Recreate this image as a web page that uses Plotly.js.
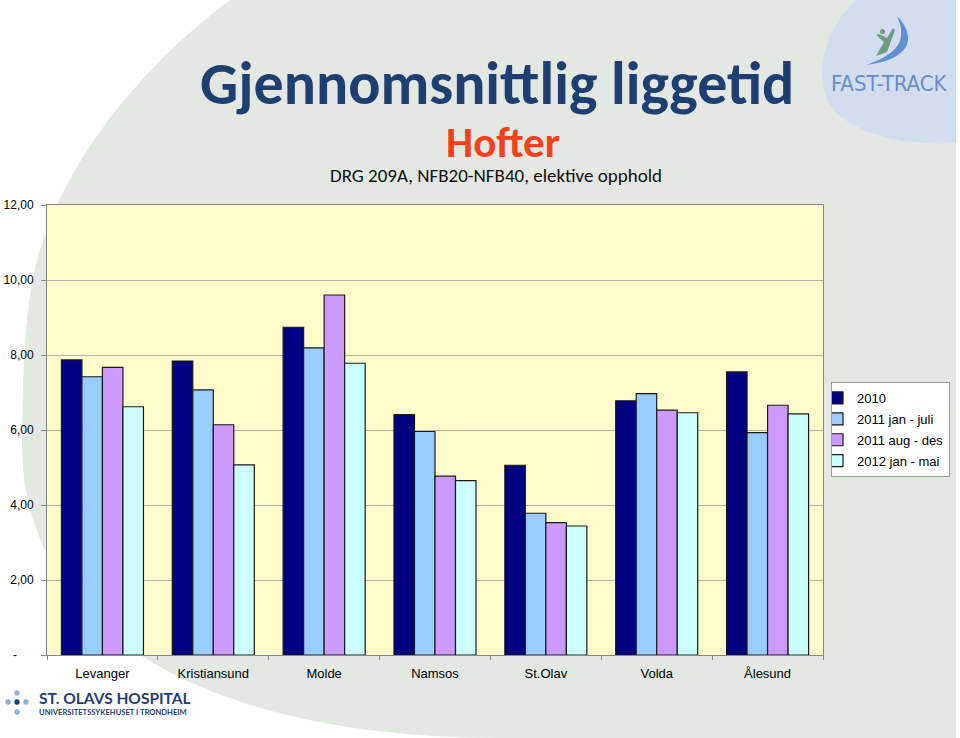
<!DOCTYPE html>
<html>
<head>
<meta charset="utf-8">
<script src="https://cdn.plot.ly/plotly-3.0.1.min.js"></script>
<style>
  html, body { margin: 0; padding: 0; background: #ffffff; }
  #chart { width: 960px; height: 738px; }
</style>
</head>
<body>
<div id="chart"></div>
<script>
// ---- Data ----
const categories = ['Levanger', 'Kristiansund', 'Molde', 'Namsos', 'St.Olav', 'Volda', 'Ålesund'];
const seriesNames = ['2010', '2011 jan - juli', '2011 aug - des', '2012 jan - mai'];
const values2010 = [7.87, 7.84, 8.74, 6.41, 5.06, 6.78, 7.55];
const values2011JanJuli = [7.42, 7.07, 8.19, 5.96, 3.78, 6.97, 5.93];
const values2011AugDes = [7.67, 6.14, 9.60, 4.77, 3.53, 6.53, 6.66];
const values2012JanMai = [6.62, 5.07, 7.78, 4.65, 3.44, 6.46, 6.43];
const yTickVals = [0, 2, 4, 6, 8, 10, 12];
const yTickText = ['-\u00a0\u00a0\u00a0\u00a0\u00a0', '2,00', '4,00', '6,00', '8,00', '10,00', '12,00'];
const seriesColors = ['#000080', '#99ccff', '#cc99ff', '#ccffff'];

// ---- Layout geometry (pixels) ----
const W = 960, H = 738;
const M = {l: 47, r: 137, t: 205, b: 83};
const PW = W - M.l - M.r, PH = H - M.t - M.b;
const px = x => (x - M.l) / PW;
const py = y => (H - M.b - y) / PH;
const P = (x, y) => px(x) + ',' + py(y);

const allSeries = [values2010, values2011JanJuli, values2011AugDes, values2012JanMai];
const traces = allSeries.map((vals, i) => ({
  type: 'bar',
  name: seriesNames[i],
  x: categories,
  y: vals,
  marker: {color: seriesColors[i], line: {color: '#1a1a1a', width: 1.2}},
  legendgroup: 'g' + i,
  hoverinfo: 'x+y+name'
}));

const fontArial = 'Arial, "Liberation Sans", sans-serif';
const fontTitle = 'Carlito, Calibri, Lato, "Open Sans", sans-serif';

const shapes = [
  // grey-green slide swoosh
  {type: 'path', xref: 'paper', yref: 'paper', layer: 'below', line: {width: 0}, fillcolor: '#e3e8e3',
   path: 'M ' + P(230, 0) + ' L ' + P(956, 0) + ' L ' + P(956, 738) + ' L ' + P(500, 738) +
         ' C ' + P(220, 738) + ' ' + P(20, 640) + ' ' + P(22, 440) +
         ' C ' + P(23, 360) + ' ' + P(25, 300) + ' ' + P(40, 250) +
         ' C ' + P(70, 150) + ' ' + P(150, 60) + ' ' + P(230, 0) + ' Z'},
  // light blue corner blob
  {type: 'path', xref: 'paper', yref: 'paper', layer: 'below', line: {width: 0}, fillcolor: '#d3ddf0',
   path: 'M ' + P(857, 0) + ' C ' + P(822, 28) + ' ' + P(808, 90) + ' ' + P(840, 116) +
         ' C ' + P(870, 140) + ' ' + P(920, 146) + ' ' + P(956, 143) + ' L ' + P(956, 0) + ' Z'},
  // plot area background
  {type: 'rect', xref: 'paper', yref: 'paper', layer: 'below', x0: 0, x1: 1, y0: 0, y1: 1,
   fillcolor: '#fffccc', line: {width: 0}},
  // fast-track swoosh
  {type: 'path', xref: 'paper', yref: 'paper', line: {width: 0}, fillcolor: '#5f8fd0',
   path: 'M ' + P(897, 16) + ' C ' + P(918, 38) + ' ' + P(910, 60) + ' ' + P(866, 65) +
         ' C ' + P(898, 54) + ' ' + P(908, 40) + ' ' + P(897, 16) + ' Z'},
  // fast-track figure
  {type: 'path', xref: 'paper', yref: 'paper', line: {width: 0}, fillcolor: '#6e9c7e',
   path: 'M ' + P(876, 56) + ' L ' + P(884, 42) + ' L ' + P(876, 35) + ' L ' + P(879, 34) +
         ' L ' + P(887, 38) + ' L ' + P(893, 28) + ' L ' + P(895, 30) + ' L ' + P(891, 41) +
         ' L ' + P(887, 52) + ' Z'},
  {type: 'circle', xref: 'paper', yref: 'paper', line: {width: 0}, fillcolor: '#6e9c7e',
   x0: px(880), x1: px(885), y0: py(29), y1: py(34)},
  // St. Olavs dots
  ...[[17, 693, '#8fb0d8'], [8, 702, '#8fb0d8'], [17, 702, '#1f3f73'], [26, 702, '#8fb0d8'], [17, 712, '#8fb0d8']].map(d => ({
    type: 'circle', xref: 'paper', yref: 'paper', line: {width: 0}, fillcolor: d[2],
    x0: px(d[0] - 2.7), x1: px(d[0] + 2.7), y0: py(d[1] + 2.7), y1: py(d[1] - 2.7)
  }))
];

function ann(x, y, text, font, xa, ya, h) {
  const a = {xref: 'paper', yref: 'paper', x: px(x), y: py(y), text: text, showarrow: false,
          font: font, xanchor: xa || 'center', yanchor: ya || 'middle'};
  if (h) { a.height = h; }
  return a;
}

const annotations = [
  ann(497, 84, '<b>Gjennomsnittlig liggetid</b>', {family: fontTitle, size: 60, color: '#1f3f73'}),
  ann(503, 142, '<b>Hofter</b>', {family: fontTitle, size: 43, color: '#f5401a'}, 'center', 'middle', 44),
  ann(496, 176, 'DRG 209A, NFB20-NFB40, elektive opphold', {family: fontTitle, size: 19, color: '#111111'}, 'center', 'middle', 21),
  ann(890, 84, 'FAST-TRACK', {family: '"Liberation Sans Narrow", "DejaVu Sans Condensed", Carlito, sans-serif', size: 22, color: '#6a8fc4'}),
  ann(37, 698, '<b>ST. OLAVS HOSPITAL</b>', {family: 'Lato, "Open Sans", sans-serif', size: 15.5, color: '#1f3f73'}, 'left'),
  ann(37, 712, '<b>UNIVERSITETSSYKEHUSET I TRONDHEIM</b>', {family: 'Lato, "Open Sans", sans-serif', size: 7.6, color: '#1f3f73'}, 'left')
];

const layout = {
  width: W, height: H,
  margin: {l: M.l, r: M.r, t: M.t, b: M.b, autoexpand: false},
  paper_bgcolor: 'rgba(0,0,0,0)',
  plot_bgcolor: 'rgba(0,0,0,0)',
  barmode: 'group',
  bargap: 0.26,
  bargroupgap: 0,
  font: {family: fontArial, size: 12, color: '#000000'},
  xaxis: {
    type: 'category',
    showline: true, linecolor: '#888888', linewidth: 1, mirror: true,
    ticks: 'outside', tickson: 'boundaries', ticklen: 4, tickcolor: '#888888',
    ticklabelstandoff: 6,
    showgrid: false,
    tickfont: {family: fontArial, size: 13, color: '#000000'}
  },
  yaxis: {
    range: [0, 12],
    tickvals: yTickVals, ticktext: yTickText,
    showline: true, linecolor: '#888888', linewidth: 1, mirror: true,
    ticks: 'outside', ticklen: 5, tickcolor: '#888888',
    ticklabelstandoff: 5,
    showgrid: true, gridcolor: '#b5b5a5', gridwidth: 1,
    zeroline: false,
    tickfont: {family: fontArial, size: 12, color: '#000000'}
  },
  legend: {
    x: px(831), y: py(382), xanchor: 'left', yanchor: 'top',
    bgcolor: '#ffffff', bordercolor: '#9a9a9a', borderwidth: 1,
    font: {family: fontArial, size: 13, color: '#000000'},
    tracegroupgap: 1, indentation: -15
  },
  shapes: shapes,
  annotations: annotations
};

Plotly.newPlot('chart', traces, layout, {displayModeBar: false, staticPlot: true});
</script>
</body>
</html>
